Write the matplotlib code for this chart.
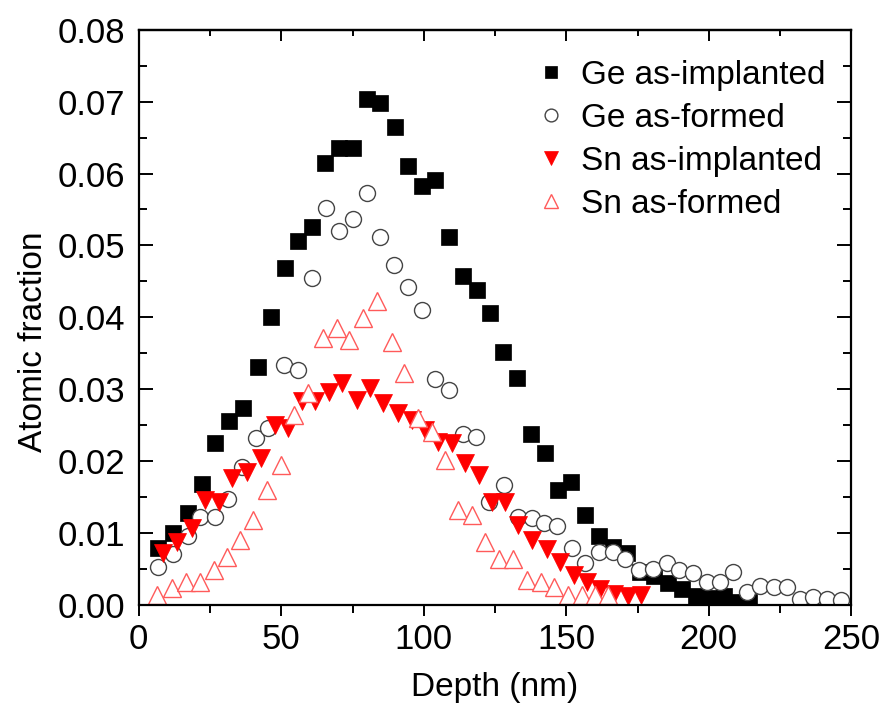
import matplotlib
matplotlib.use('Agg')
import matplotlib.pyplot as plt
from matplotlib.ticker import MultipleLocator

plt.rcParams['font.family'] = ['Liberation Sans', 'DejaVu Sans']

# Ge as-implanted (filled squares)
ge_imp_x = [6.7, 11.9, 17.2, 22.1, 26.7, 31.6, 36.5, 41.8, 46.3, 51.2, 55.8, 60.7, 65.3, 70.2, 75.1,
            80.0, 84.6, 89.8, 94.4, 99.3, 103.9, 108.8, 113.7, 118.6, 123.2, 127.7, 132.6, 137.5, 142.5,
            147.0, 151.6, 156.5, 161.4, 166.3, 171.2, 176.0, 180.9, 185.8, 190.7, 195.6, 200.5, 205.3,
            210.2, 214.0]
ge_imp_y = [0.0079, 0.0100, 0.0128, 0.0168, 0.0225, 0.0255, 0.0274, 0.0331, 0.0401, 0.0469, 0.0506,
            0.0526, 0.0614, 0.0636, 0.0636, 0.0703, 0.0698, 0.0665, 0.0611, 0.0582, 0.0591, 0.0512,
            0.0458, 0.0438, 0.0406, 0.0351, 0.0316, 0.0238, 0.0211, 0.0160, 0.0171, 0.0125, 0.0095,
            0.0080, 0.0072, 0.0045, 0.0040, 0.0030, 0.0022, 0.0012, 0.0010, 0.0012, 0.0004, 0.0004]

# Ge as-formed (open circles)
ge_form_x = [6.7, 11.9, 17.2, 21.4, 26.7, 31.2, 36.1, 41.1, 45.3, 50.9, 55.8, 60.7, 65.6, 70.2, 75.1,
             80.0, 84.6, 89.5, 94.4, 99.3, 103.9, 108.8, 113.7, 118.2, 122.8, 128.0, 133.0, 137.9,
             142.1, 146.7, 151.9, 156.5, 161.4, 166.3, 170.5, 175.4, 180.4, 185.3, 189.5, 194.4, 199.3,
             203.9, 208.4, 213.3, 217.9, 222.8, 227.4, 231.9, 236.5, 241.4, 246.3]
ge_form_y = [0.0053, 0.0070, 0.0095, 0.0122, 0.0122, 0.0147, 0.0191, 0.0232, 0.0246, 0.0334, 0.0327,
             0.0455, 0.0552, 0.0520, 0.0537, 0.0573, 0.0512, 0.0473, 0.0442, 0.0410, 0.0314, 0.0299,
             0.0237, 0.0234, 0.0143, 0.0167, 0.0122, 0.0121, 0.0114, 0.0109, 0.0079, 0.0058, 0.0074,
             0.0074, 0.0063, 0.0049, 0.0050, 0.0058, 0.0049, 0.0044, 0.0032, 0.0032, 0.0045, 0.0018,
             0.0026, 0.0025, 0.0025, 0.0008, 0.0011, 0.0008, 0.0007]

# Sn as-implanted (filled down triangles)
sn_imp_x = [8.4, 13.3, 18.6, 23.2, 28.1, 32.6, 37.9, 42.8, 47.7, 52.3, 57.2, 61.8, 66.7, 71.2, 76.5,
            81.1, 85.6, 90.9, 95.8, 100.4, 104.9, 109.8, 114.4, 119.3, 123.9, 128.4, 133.0, 137.9,
            143.2, 147.7, 152.6, 157.2, 162.0, 166.8, 171.5, 176.3]
sn_imp_y = [0.0072, 0.0088, 0.0107, 0.0146, 0.0143, 0.0176, 0.0185, 0.0204, 0.0250, 0.0246, 0.0283,
            0.0283, 0.0296, 0.0309, 0.0285, 0.0302, 0.0281, 0.0267, 0.0257, 0.0243, 0.0227, 0.0225,
            0.0197, 0.0181, 0.0143, 0.0143, 0.0111, 0.0090, 0.0077, 0.0060, 0.0042, 0.0032, 0.0022,
            0.0015, 0.0012, 0.0013]

# Sn as-formed (open up triangles)
sn_form_x = [6.3, 11.6, 16.5, 21.4, 26.3, 30.9, 35.4, 40.0, 44.9, 49.8, 54.4, 59.3, 64.6, 69.5, 73.7,
             78.6, 83.5, 88.8, 93.0, 97.9, 102.8, 107.4, 112.0, 116.8, 121.4, 126.3, 131.2, 136.1,
             141.0, 145.6, 150.5, 155.4, 160.0, 164.6]
sn_form_y = [0.0014, 0.0024, 0.0032, 0.0031, 0.0049, 0.0067, 0.0090, 0.0118, 0.0160, 0.0195, 0.0264,
             0.0295, 0.0371, 0.0385, 0.0369, 0.0399, 0.0422, 0.0365, 0.0323, 0.0260, 0.0241, 0.0202,
             0.0132, 0.0125, 0.0088, 0.0063, 0.0063, 0.0035, 0.0032, 0.0025, 0.0014, 0.0014, 0.0014,
             0.0014]

labels = ['Ge as-implanted', 'Ge as-formed', 'Sn as-implanted', 'Sn as-formed']

fig = plt.figure(figsize=(8.84, 7.09), dpi=100)
ax = fig.add_axes([0.157, 0.147, 0.806, 0.811])

ax.plot(ge_imp_x, ge_imp_y, ls='none', marker='s', ms=11, mfc='black', mec='black', mew=0.5,
        label=labels[0])
ax.plot(ge_form_x, ge_form_y, ls='none', marker='o', ms=11.5, mfc='white', mec='#444444', mew=1.0,
        label=labels[1])
ax.plot(sn_imp_x, sn_imp_y, ls='none', marker='v', ms=12.5, mfc='red', mec='red', mew=0.5,
        label=labels[2])
ax.plot(sn_form_x, sn_form_y, ls='none', marker='^', ms=12.5, mfc='white', mec='#ff5a5a', mew=1.0,
        label=labels[3])

ax.set_xlim(0, 250)
ax.set_ylim(0, 0.08)
ax.xaxis.set_major_locator(MultipleLocator(50))
ax.xaxis.set_minor_locator(MultipleLocator(25))
ax.yaxis.set_major_locator(MultipleLocator(0.01))
ax.yaxis.set_minor_locator(MultipleLocator(0.005))
ax.yaxis.set_major_formatter(matplotlib.ticker.FormatStrFormatter('%.2f'))

for s in ax.spines.values():
    s.set_linewidth(1.6)

ax.tick_params(axis='y', which='both', direction='in', left=True, right=True, width=1.4,
               labelsize=25, pad=10)
ax.tick_params(axis='y', which='major', length=10)
ax.tick_params(axis='y', which='minor', length=6)
ax.tick_params(axis='x', which='both', direction='out', bottom=True, width=1.4,
               labelsize=25, pad=5)
ax.tick_params(axis='x', which='major', length=8)
ax.tick_params(axis='x', which='minor', length=6)

# mirrored ticks on top, pointing in
top = ax.secondary_xaxis('top')
top.xaxis.set_major_locator(MultipleLocator(50))
top.xaxis.set_minor_locator(MultipleLocator(25))
top.tick_params(axis='x', which='both', direction='in', width=1.4, labeltop=False)
top.tick_params(axis='x', which='major', length=8)
top.tick_params(axis='x', which='minor', length=4)
top.spines['top'].set_linewidth(1.6)

ax.set_xlabel('Depth (nm)', fontsize=24, labelpad=12)
ax.set_ylabel('Atomic fraction', fontsize=24)
ax.yaxis.set_label_coords(-0.126, 0.457)

leg = ax.legend(loc='upper right', frameon=False, fontsize=24, markerscale=0.8,
                handlelength=1.45, handletextpad=0.15, labelspacing=0.36, borderaxespad=0.0,
                bbox_to_anchor=(0.982, 0.971))

fig.savefig('out.png', dpi=100)
